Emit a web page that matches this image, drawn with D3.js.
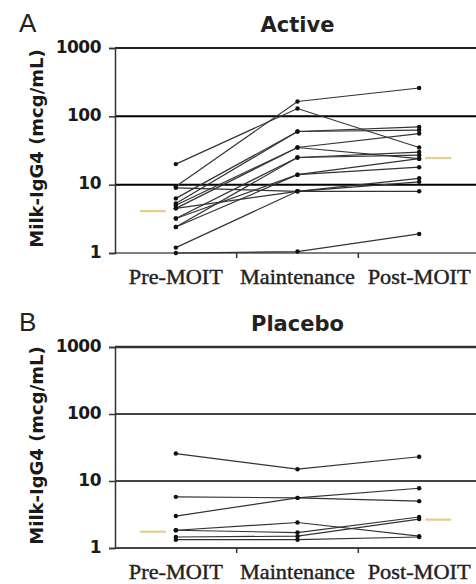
<!DOCTYPE html>
<html>
<head>
<meta charset="utf-8">
<script src="https://cdn.jsdelivr.net/npm/d3@7"></script>
<style>
	body { margin: 0; background: #fff; }
	svg { display: block; }
</style>
</head>
<body>
<div id="chart"></div>
<script>

// Data (mcg/mL, log scale)

var categories = ['Pre-MOIT', 'Maintenance', 'Post-MOIT'];
var yTicks = [1, 10, 100, 1000];

var activeSubjects = [
	[20, 130, 35],
	[9.4, 165, 260],
	[6.3, 60, 70],
	[5.3, 60, 63],
	[4.5, 35, 56],
	[5.0, 35, 24],
	[3.2, 25, 30],
	[2.4, 25, 27],
	[3.2, 14, 18],
	[2.4, 14, 24],
	[1.2, 8, 12.4],
	[4.5, 8, 11],
	[9.0, 8, 8],
	[1.0, 1.05, 1.9]
];
var activeMeans = [4.1, 24.5];

var placeboSubjects = [
	[25.7, 15, 23],
	[5.8, 5.6, 5.0],
	[3.0, 5.6, 7.8],
	[1.84, 2.4, 1.5],
	[1.84, 1.7, 2.9],
	[1.46, 1.5, 2.7],
	[1.33, 1.33, 1.46]
];
var placeboMeans = [1.75, 2.65];

var panels = [
	{letter: 'A', title: 'Active', subjects: activeSubjects, means: activeMeans, top: 48, bottom: 253, gridColor: ['#555', '#000', '#000', '#222'], gridWidth: [1.5, 2, 2, 2]},
	{letter: 'B', title: 'Placebo', subjects: placeboSubjects, means: placeboMeans, top: 347, bottom: 548, gridColor: ['#444', '#444', '#444', '#333'], gridWidth: [2, 2, 2, 2.5]}
];

// widths of the x labels in the figure
var labelWidths = [94, 115, 103];

var
	width = 476,
	height = 584,
	left = 115,

	svg = d3.select('#chart').append('svg')
		.attr('width', width)
		.attr('height', height),

	x = d3.scaleBand()
		.domain(categories)
		.range([left, 480]),

	line = null;

panels.forEach(function(p) {

	var y = d3.scaleLog()
		.domain([1, 1000])
		.range([p.bottom, p.top]);

	var g = svg.append('g');

	// horizontal decade lines
	g.selectAll('line.grid')
		.data(yTicks)
		.enter()
		.append('line')
		.attr('x1', left)
		.attr('x2', width)
		.attr('y1', function(d) {return y(d);})
		.attr('y2', function(d) {return y(d);})
		.style('stroke', function(d, i) {return p.gridColor[i];})
		.style('stroke-width', function(d, i) {return p.gridWidth[i];});

	// y axis
	var yAxis = g.append('g')
		.attr('transform', 'translate(' + left + ',0)')
		.call(d3.axisLeft(y).tickValues(yTicks).tickFormat(d3.format('d')).tickSize(6).tickPadding(8));
	yAxis.select('.domain').style('stroke', '#333').style('stroke-width', 1.5);
	yAxis.selectAll('.tick line').style('stroke', '#333').style('stroke-width', 1.5);
	yAxis.selectAll('text')
		.attr('dy', '0.25em')
		.style('font-family', 'DejaVu Sans')
		.style('font-weight', 'bold')
		.style('font-size', '17px')
		.style('letter-spacing', '-0.5px')
		.style('fill', '#1a1a1a');

	// x axis: labels centred on bands, ticks on band edges
	var xAxis = g.append('g')
		.attr('transform', 'translate(0,' + p.bottom + ')')
		.call(d3.axisBottom(x).tickSize(0).tickPadding(0));
	xAxis.select('.domain').remove();
	xAxis.selectAll('text')
		.attr('y', 31)
		.attr('dy', null)
		.attr('textLength', function(d, i) {return labelWidths[i];})
		.attr('lengthAdjust', 'spacingAndGlyphs')
		.style('font-family', 'Liberation Serif')
		.style('font-size', '21px')
		.style('stroke', '#222')
		.style('stroke-width', 0.4)
		.style('fill', '#222');

	g.selectAll('line.xtick')
		.data(categories.slice(1))
		.enter()
		.append('line')
		.attr('x1', function(d) {return x(d);})
		.attr('x2', function(d) {return x(d);})
		.attr('y1', p.bottom)
		.attr('y2', p.bottom + 5)
		.style('stroke', '#333')
		.style('stroke-width', 1.5);

	// subject lines
	line = d3.line()
		.x(function(d, i) {return x(categories[i]) + x.bandwidth() / 2;})
		.y(function(d) {return y(d);});

	g.selectAll('path.subject')
		.data(p.subjects)
		.enter()
		.append('path')
		.attr('d', line)
		.style('fill', 'none')
		.style('stroke', '#333')
		.style('stroke-width', 1.2);

	p.subjects.forEach(function(s) {
		g.selectAll(null)
			.data(s)
			.enter()
			.append('circle')
			.attr('cx', function(d, i) {return x(categories[i]) + x.bandwidth() / 2;})
			.attr('cy', function(d) {return y(d);})
			.attr('r', 2.2)
			.style('fill', '#111');
	});

	// group means (pre and post)
	var meanX = [x(categories[0]) + x.bandwidth() / 2 - 23, x(categories[2]) + x.bandwidth() / 2 + 19];
	g.selectAll('line.mean')
		.data(p.means)
		.enter()
		.append('line')
		.attr('x1', function(d, i) {return meanX[i] - 13;})
		.attr('x2', function(d, i) {return meanX[i] + 13;})
		.attr('y1', function(d) {return y(d);})
		.attr('y2', function(d) {return y(d);})
		.style('stroke', '#e4cf8c')
		.style('stroke-width', 2.2);

	// title, panel letter, y label
	g.append('text')
		.attr('x', x(categories[1]) + x.bandwidth() / 2)
		.attr('y', p.top - 16)
		.attr('text-anchor', 'middle')
		.style('font-family', 'DejaVu Sans')
		.style('font-weight', 'bold')
		.style('font-size', '21px')
		.style('fill', '#222')
		.text(p.title);

	g.append('text')
		.attr('x', 19)
		.attr('y', p.top - 16)
		.style('font-family', 'Liberation Sans')
		.style('font-size', '26px')
		.style('fill', '#222')
		.text(p.letter);

	g.append('text')
		.attr('transform', 'translate(43,' + ((p.top + p.bottom) / 2 - 2) + ') rotate(-90)')
		.attr('text-anchor', 'middle')
		.style('font-family', 'DejaVu Sans')
		.style('font-weight', 'bold')
		.style('font-size', '18px')
		.style('fill', '#1a1a1a')
		.text('Milk-IgG4 (mcg/mL)');

});

</script>
</body>
</html>
